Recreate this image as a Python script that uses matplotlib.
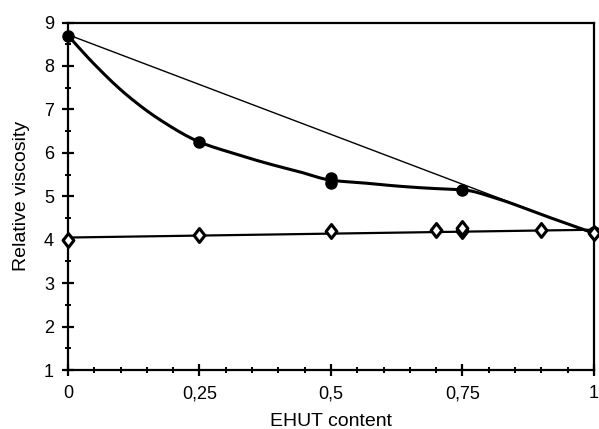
import numpy as np
import matplotlib
matplotlib.use("Agg")
import matplotlib.pyplot as plt
from matplotlib.path import Path
from matplotlib.ticker import MultipleLocator

plt.rcParams['font.family'] = ['Liberation Sans', 'DejaVu Sans']

# --- data ---
circ_x = [0, 0.25, 0.5, 0.5, 0.75, 1]
circ_y = [8.70, 6.25, 5.42, 5.31, 5.15, 4.17]

diam_x = [0, 0.25, 0.5, 0.7, 0.75, 0.75, 0.9, 1]
diam_y = [4.00, 4.10, 4.20, 4.22, 4.21, 4.28, 4.22, 4.15]

# smooth curve through the filled points
curve_x = [0, 0.05, 0.11, 0.175, 0.25, 0.314, 0.378, 0.441, 0.5,
           0.568, 0.631, 0.694, 0.75, 0.82, 0.9, 1]
curve_y = [8.70, 8.04, 7.35, 6.76, 6.25, 5.99, 5.76, 5.56, 5.37,
           5.30, 5.23, 5.18, 5.15, 4.93, 4.58, 4.15]

# straight reference lines (end points)
ideal_x = [0, 1]
ideal_y = [8.72, 4.13]
fit_x = [0, 1]
fit_y = [4.05, 4.23]

xticks = [0, 0.25, 0.5, 0.75, 1]
xticklabels = ['0', '0,25', '0,5', '0,75', '1']


def pchip(x, y, xs):
    # monotone cubic (Fritsch-Carlson) so the read-off curve doesn't wobble
    x = np.asarray(x, float)
    y = np.asarray(y, float)
    h = np.diff(x)
    delta = np.diff(y) / h
    d = np.zeros_like(y)
    d[0], d[-1] = delta[0], delta[-1]
    for k in range(1, len(x) - 1):
        if delta[k - 1] * delta[k] > 0:
            w1 = 2 * h[k] + h[k - 1]
            w2 = h[k] + 2 * h[k - 1]
            d[k] = (w1 + w2) / (w1 / delta[k - 1] + w2 / delta[k])
    idx = np.clip(np.searchsorted(x, xs) - 1, 0, len(x) - 2)
    hh = h[idx]
    t = (xs - x[idx]) / hh
    h00 = 2 * t**3 - 3 * t**2 + 1
    h10 = t**3 - 2 * t**2 + t
    h01 = -2 * t**3 + 3 * t**2
    h11 = t**3 - t**2
    return h00 * y[idx] + h10 * hh * d[idx] + h01 * y[idx + 1] + h11 * hh * d[idx + 1]


fig = plt.figure(figsize=(5.99, 4.29), dpi=100)
ax = fig.add_axes([0.1135, 0.1375, 0.878, 0.81])

xs = np.linspace(0, 1, 400)
ax.plot(xs, pchip(curve_x, curve_y, xs), color='black', lw=2.2, zorder=2)

ax.plot(ideal_x, ideal_y, color='black', lw=1.0, zorder=2)
ax.plot(fit_x, fit_y, color='black', lw=1.6, zorder=2)

diamond = Path([(0, 1), (0.78, 0), (0, -1), (-0.78, 0), (0, 1)],
               [Path.MOVETO, Path.LINETO, Path.LINETO, Path.LINETO, Path.CLOSEPOLY])

ax.plot(circ_x, circ_y, 'o', color='black', ms=8, zorder=3, clip_on=False)
ax.plot(diam_x, diam_y, marker=diamond, ls='none', mfc='white', mec='black',
        mew=2.2, ms=10, zorder=3, clip_on=False)

ax.set_xlim(0, 1)
ax.set_ylim(1, 9)
ax.set_xticks(xticks)
ax.set_xticklabels(xticklabels)
ax.xaxis.set_minor_locator(MultipleLocator(0.05))
ax.yaxis.set_major_locator(MultipleLocator(1))
ax.yaxis.set_minor_locator(MultipleLocator(0.5))

for s in ax.spines.values():
    s.set_linewidth(1.6)
ax.tick_params(which='major', direction='inout', length=8, width=1.6,
               labelsize=13)
ax.tick_params(axis='x', which='major', pad=7)
ax.tick_params(axis='y', which='major', pad=6)
ax.tick_params(which='minor', direction='inout', length=5, width=1.4)

ax.set_xlabel('EHUT content', fontsize=14, labelpad=8)
ax.set_ylabel('Relative viscosity', fontsize=14, labelpad=10)

fig.savefig('out.png', dpi=100)
